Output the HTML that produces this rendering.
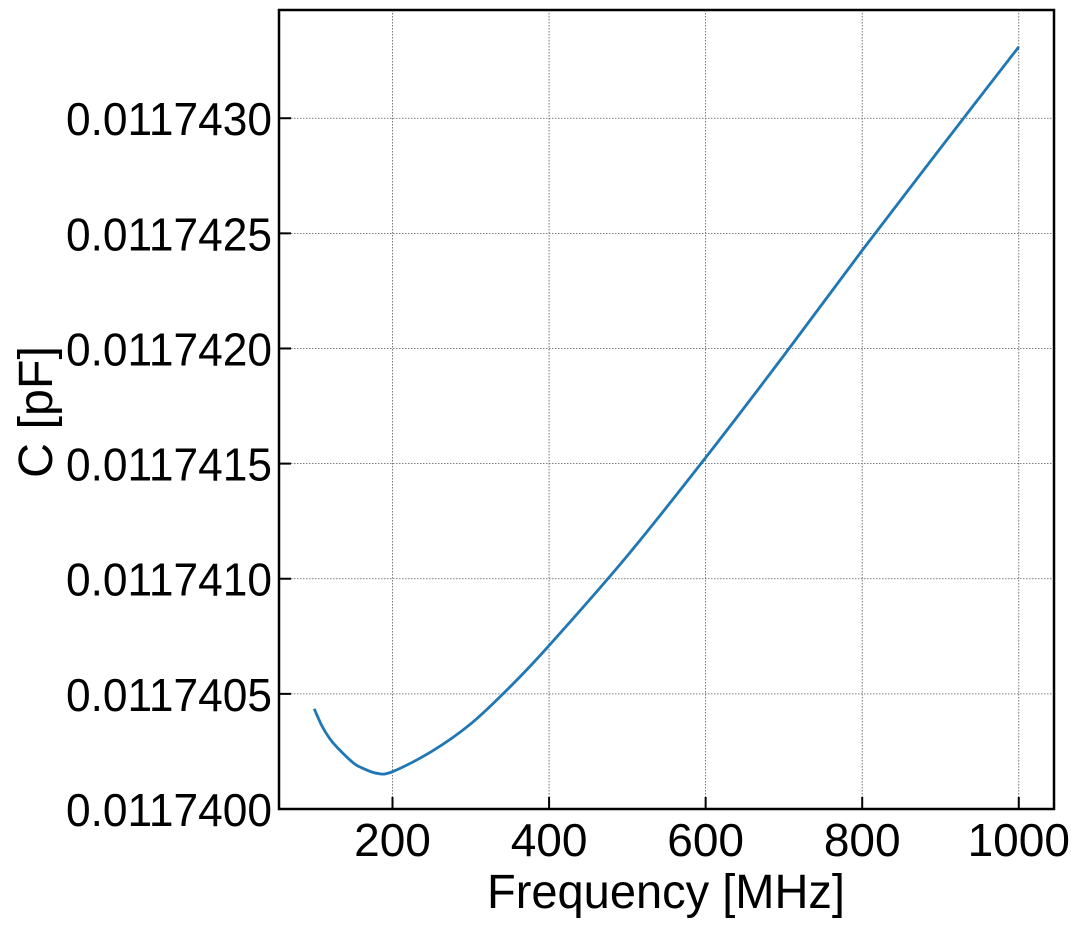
<!DOCTYPE html>
<html><head><meta charset="utf-8"><style>
html,body{margin:0;padding:0;background:#fff}
svg text{font-family:"Liberation Sans",sans-serif;fill:#000}
</style></head><body>
<svg id="chart" width="1077" height="927" xmlns="http://www.w3.org/2000/svg">
<g id="grid"></g>
<g id="xticks"></g>
<g id="yticks"></g>
<path id="line" fill="none" stroke="#1f77b4" stroke-width="2.8"/>
<rect x="279" y="10" width="775" height="799" fill="none" stroke="#000" stroke-width="2.5"/>
<text x="666" y="908" font-size="48" text-anchor="middle" textLength="358" lengthAdjust="spacingAndGlyphs">Frequency [MHz]</text>
<text transform="translate(52,412) rotate(-90)" font-size="48" text-anchor="middle" textLength="132" lengthAdjust="spacingAndGlyphs">C [pF]</text>
</svg>
<script>
const freqs = [100,110,120,130,150,160,180,200,250,300,350,400,500,600,700,800,900,1000];
const capDelta = [4.35,3.6,3.05,2.65,2.0,1.8,1.55,1.62,2.5,3.7,5.3,7.1,11.0,15.26,19.7,24.26,28.7,33.1]; // units of 1e-7 pF above base
const capBase = 0.01174;
const xTicks = [200,400,600,800,1000];
const yTicks = [0.0117400,0.0117405,0.0117410,0.0117415,0.0117420,0.0117425,0.0117430];
const yTickLabels = ["0.0117400","0.0117405","0.0117410","0.0117415","0.0117420","0.0117425","0.0117430"];

const L=279,R=1054,T=10,B=809;
const xMin=55,xMax=1045, yMin=0.0117400, yMax=0.01174347;
const sx=v=>L+(v-xMin)/(xMax-xMin)*(R-L);
const sy=v=>B-(v-yMin)/(yMax-yMin)*(B-T);
const NS="http://www.w3.org/2000/svg";
function mk(tag,attrs,parent){const e=document.createElementNS(NS,tag);for(const k in attrs)e.setAttribute(k,attrs[k]);parent.appendChild(e);return e;}
const grid=document.getElementById('grid'),xg=document.getElementById('xticks'),yg=document.getElementById('yticks');
xTicks.forEach(t=>{
  const x=sx(t);
  const gl=mk('line',{x1:x,x2:x,y1:T,y2:B,stroke:'#555','stroke-width':0.8,'stroke-dasharray':'1.5,1.5'},grid);
  
  
  const tk=mk('line',{x1:x,x2:x,y1:B,y2:B-12,stroke:'#000','stroke-width':2},xg);
  
  
  const lb=mk('text',{x:x,y:856,'font-size':46,'text-anchor':'middle'},xg);
  lb.textContent=String(t);
  
  
});
yTicks.forEach((t,i)=>{
  const y=sy(t);
  const gl=mk('line',{x1:L,x2:R,y1:y,y2:y,stroke:'#555','stroke-width':0.8,'stroke-dasharray':'1.5,1.5'},grid);
  
  
  const tk=mk('line',{x1:L,x2:L+12,y1:y,y2:y,stroke:'#000','stroke-width':2},yg);
  
  
  const lb=mk('text',{x:272,y:y+17,'font-size':46,'text-anchor':'end',textLength:206,lengthAdjust:'spacingAndGlyphs'},yg);
  lb.textContent=yTickLabels[i];
  
  
});
const pts=freqs.map((f,i)=>[sx(f),sy(capBase+capDelta[i]*1e-7)]);
let d='M'+pts[0][0]+','+pts[0][1];
for(let i=0;i<pts.length-1;i++){
  const p0=pts[i-1]||pts[i],p1=pts[i],p2=pts[i+1],p3=pts[i+2]||p2;
  const c1=[p1[0]+(p2[0]-p0[0])/6,p1[1]+(p2[1]-p0[1])/6];
  const c2=[p2[0]-(p3[0]-p1[0])/6,p2[1]-(p3[1]-p1[1])/6];
  d+=' C'+c1+' '+c2+' '+p2;
}
document.getElementById('line').setAttribute('d',d);
</script>
</body></html>
